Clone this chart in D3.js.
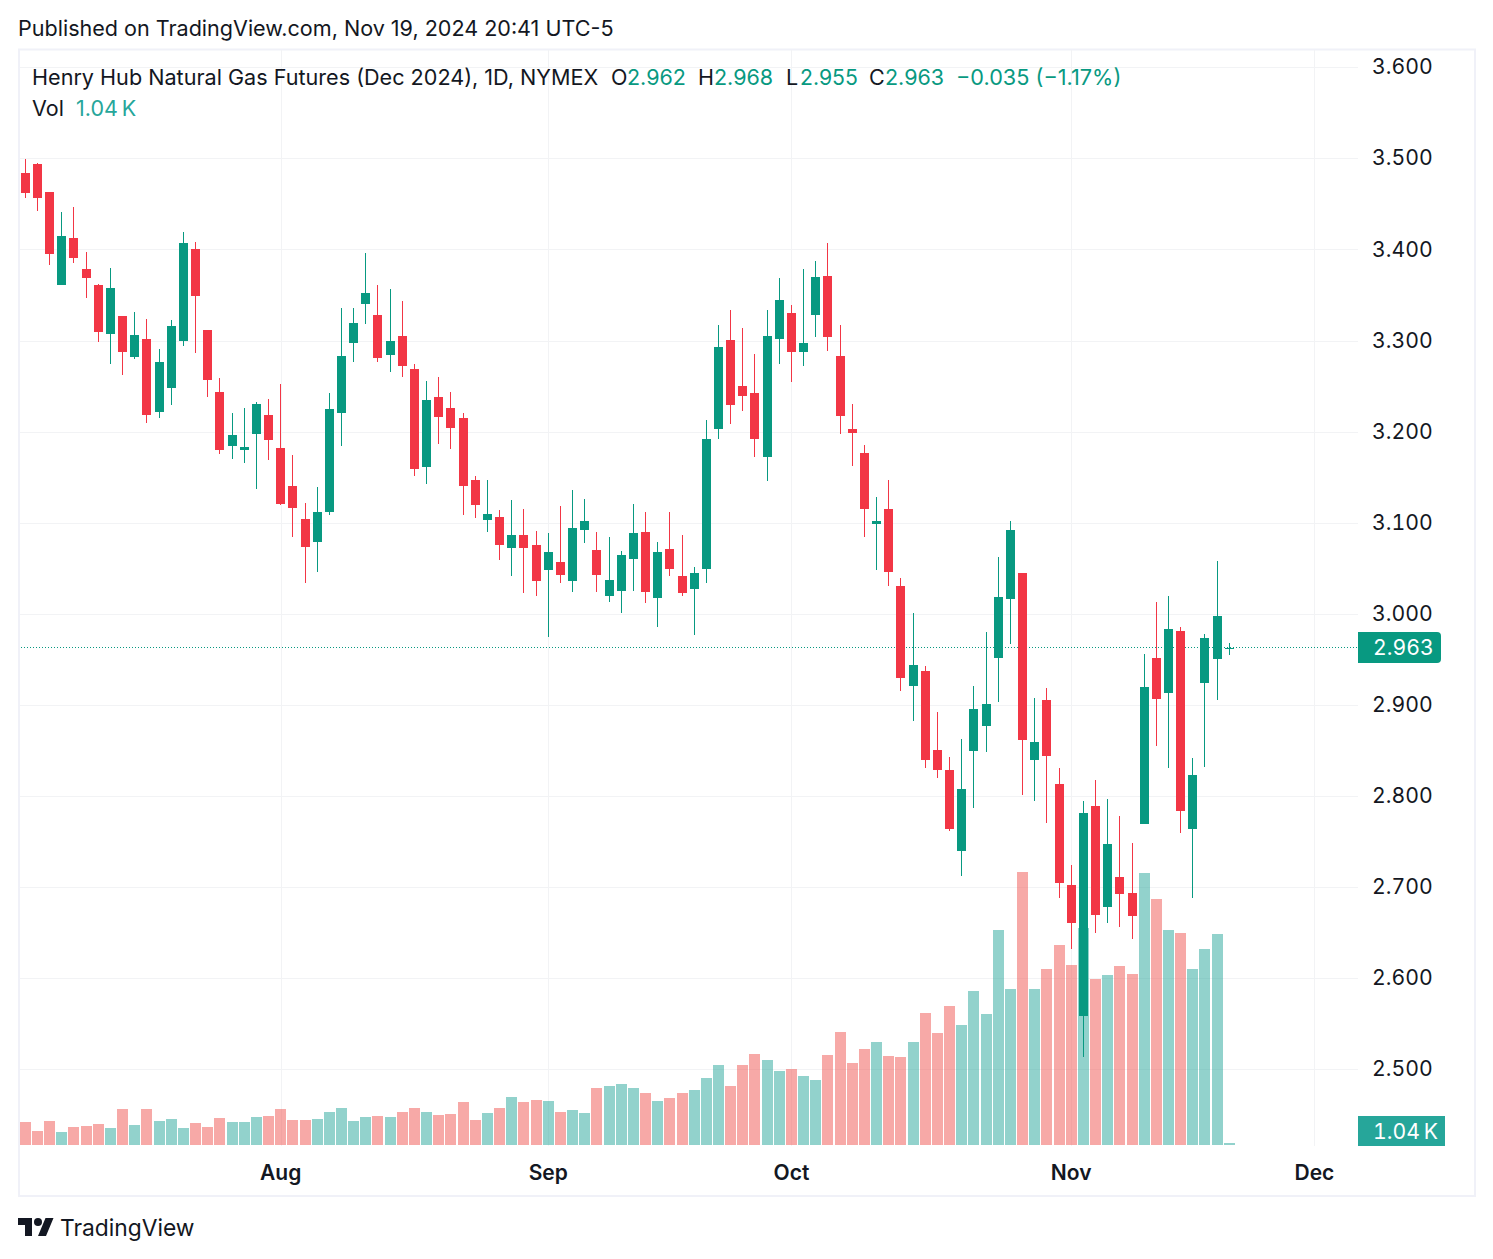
<!DOCTYPE html>
<html><head><meta charset="utf-8">
<script src="https://cdn.jsdelivr.net/npm/d3@7/dist/d3.min.js"></script>
<style>html,body{margin:0;padding:0;background:#fff}svg{display:block}text{font-family:Inter,"Noto Sans",sans-serif}</style>
</head><body><svg id="c" width="1493" height="1259"></svg>
<script>
const opens=[3.484,3.494,3.463,3.361,3.413,3.378,3.361,3.307,3.327,3.282,
3.302,3.221,3.248,3.299,3.400,3.312,3.243,3.184,3.180,3.197,
3.218,3.182,3.140,3.104,3.079,3.112,3.220,3.297,3.340,3.328,
3.284,3.305,3.269,3.161,3.238,3.226,3.215,3.147,3.103,3.106,
3.072,3.087,3.076,3.048,3.057,3.036,3.092,3.070,3.020,3.025,
3.060,3.090,3.017,3.071,3.042,3.027,3.049,3.203,3.301,3.250,
3.242,3.172,3.302,3.330,3.287,3.328,3.371,3.283,3.203,3.176,
3.099,3.115,3.030,2.921,2.937,2.851,2.829,2.740,2.849,2.877,
2.951,3.016,3.045,2.840,2.905,2.813,2.702,2.558,2.789,2.678,
2.711,2.694,2.769,2.952,2.913,2.981,2.764,2.924,2.950,2.962];
const closes=[3.462,3.456,3.395,3.415,3.391,3.369,3.309,3.358,3.287,3.306,
3.218,3.276,3.316,3.407,3.349,3.257,3.180,3.196,3.183,3.230,
3.191,3.120,3.116,3.073,3.112,3.225,3.283,3.319,3.352,3.281,
3.299,3.272,3.159,3.235,3.216,3.204,3.140,3.119,3.110,3.075,
3.087,3.072,3.036,3.068,3.043,3.094,3.102,3.043,3.037,3.064,
3.089,3.024,3.068,3.049,3.023,3.045,3.192,3.293,3.229,3.239,
3.192,3.305,3.345,3.287,3.297,3.370,3.304,3.217,3.199,3.115,
3.102,3.046,2.930,2.944,2.840,2.829,2.764,2.808,2.895,2.901,
3.018,3.092,2.862,2.859,2.844,2.705,2.661,2.781,2.669,2.747,
2.692,2.668,2.920,2.906,2.983,2.784,2.823,2.973,2.998,2.963];
const highs=[3.499,3.495,3.463,3.441,3.447,3.397,3.362,3.380,3.327,3.331,
3.324,3.291,3.322,3.419,3.408,3.312,3.259,3.220,3.226,3.232,
3.236,3.252,3.174,3.122,3.139,3.242,3.336,3.336,3.396,3.361,
3.356,3.343,3.274,3.255,3.260,3.244,3.220,3.151,3.147,3.114,
3.125,3.115,3.091,3.089,3.118,3.136,3.126,3.090,3.084,3.069,
3.120,3.112,3.079,3.112,3.087,3.051,3.213,3.317,3.333,3.314,
3.285,3.333,3.369,3.339,3.378,3.387,3.407,3.317,3.230,3.185,
3.128,3.147,3.039,3.001,2.943,2.892,2.843,2.863,2.921,2.980,
3.062,3.102,3.045,2.908,2.919,2.831,2.724,2.795,2.818,2.797,
2.778,2.748,2.956,3.013,3.020,2.985,2.842,2.978,3.058,2.968];
const lows=[3.456,3.442,3.383,3.361,3.385,3.347,3.298,3.274,3.262,3.280,
3.209,3.215,3.229,3.294,3.286,3.238,3.175,3.170,3.165,3.137,
3.169,3.119,3.084,3.034,3.046,3.108,3.184,3.276,3.318,3.276,
3.265,3.260,3.151,3.142,3.186,3.181,3.109,3.105,3.090,3.059,
3.042,3.023,3.019,2.975,3.034,3.024,3.078,3.024,3.013,3.001,
3.025,3.012,2.986,3.041,3.019,2.977,3.034,3.192,3.208,3.223,
3.172,3.146,3.274,3.254,3.272,3.304,3.289,3.197,3.162,3.084,
3.048,3.030,2.915,2.882,2.831,2.820,2.762,2.712,2.787,2.848,
2.903,2.967,2.801,2.794,2.770,2.688,2.632,2.514,2.650,2.661,
2.656,2.643,2.769,2.855,2.831,2.759,2.688,2.832,2.905,2.955];
const volumesK=[12.0,7.3,12.5,6.8,9.4,9.9,10.9,8.8,18.7,10.4,
18.7,12.5,13.5,8.8,11.4,9.4,14.0,12.0,12.0,14.6,
15.1,18.7,13.0,13.0,13.5,17.2,19.2,12.5,14.6,15.1,
14.6,17.2,19.2,17.2,15.6,16.1,22.4,13.0,16.6,19.2,
25.0,22.4,23.4,22.9,17.2,18.2,16.6,29.6,30.7,31.7,
29.6,27.0,22.9,24.4,27.0,28.6,34.8,41.6,30.7,41.6,
47.3,44.2,38.5,39.5,35.9,33.8,46.8,58.8,42.6,49.9,
53.6,46.3,45.8,53.6,68.6,58.2,72.3,62.4,80.1,68.1,
111.8,81.1,142.0,81.1,91.5,104.0,93.6,112.8,86.3,88.4,
93.1,88.9,141.4,127.9,111.8,110.2,91.5,101.9,109.7,1.04];
const priceTicks=[2.5,2.6,2.7,2.8,2.9,3.0,3.1,3.2,3.3,3.4,3.5,3.6];
const monthTickIndex=[21,43,63,86,106];
const monthTickLabels=["Aug","Sep","Oct","Nov","Dec"];
const lastPrice=2.963;
const publishedText="Published on TradingView.com, Nov 19, 2024 20:41 UTC-5";
const symbolText="Henry Hub Natural Gas Futures (Dec 2024), 1D, NYMEX";
const ohlcLegend=[["O","2.962"],["H","2.968"],["L","2.955"],["C","2.963"]];
const changeText="\u22120.035 (\u22121.17%)";
const volumeText="1.04\u2009K";

const UP="#089981",DOWN="#f23645",VTAG="#26a69a",INK="#131722",GRID="#f2f3f5",FRAME="#f0f1f8";
const svg=d3.select("#c");
const L=20,R=1358,T=50,B=1146,FR=1475,FB=1196;
const x=d3.scaleLinear().domain([0,99]).range([25.3,1229.3]);
const y=d3.scaleLinear().domain([2.5,3.6]).range([1069.3,67.2]);
const v=d3.scaleLinear().domain([0,150]).range([1145,1145-288.5]);
const idx=d3.range(opens.length);

// frame
svg.append("rect").attr("x",19).attr("y",49.5).attr("width",FR-19).attr("height",FB-49.5)
  .attr("fill","#fff").attr("stroke",FRAME).attr("stroke-width",2);

// grid
const gh=svg.append("g").attr("transform",`translate(${L},0)`)
  .call(d3.axisRight(y).tickValues(priceTicks).tickSize(R-L).tickFormat(""));
gh.select(".domain").remove();
gh.selectAll("line").attr("stroke",GRID).attr("stroke-width",1).attr("shape-rendering","crispEdges");
const gv=svg.append("g").attr("transform",`translate(0,${T})`)
  .call(d3.axisBottom(x).tickValues(monthTickIndex).tickSize(B-T).tickFormat(""));
gv.select(".domain").remove();
gv.selectAll("line").attr("stroke",GRID).attr("stroke-width",1).attr("shape-rendering","crispEdges");

// volume
const defs=svg.append("defs");
defs.append("clipPath").attr("id","pane").append("rect").attr("x",L).attr("y",T).attr("width",R-L).attr("height",B-T);
const plot=svg.append("g").attr("clip-path","url(#pane)");
plot.append("g").selectAll("rect").data(idx).join("rect")
  .attr("x",i=>x(i)-5.5).attr("width",11)
  .attr("y",i=>v(volumesK[i])).attr("height",i=>v(0)-v(volumesK[i]))
  .attr("fill",i=>closes[i]>=opens[i]?"#26a69a":"#ef5350").attr("fill-opacity",0.5)
  .attr("shape-rendering","crispEdges");

// last price line
plot.append("line").attr("x1",L-2).attr("x2",R).attr("y1",y(lastPrice)).attr("y2",y(lastPrice))
  .attr("stroke",UP).attr("stroke-width",1).attr("stroke-dasharray","1 2").attr("shape-rendering","crispEdges");

// wicks
plot.append("g").selectAll("line").data(idx).join("line")
  .attr("x1",i=>x(i)).attr("x2",i=>x(i)).attr("y1",i=>y(highs[i])).attr("y2",i=>y(lows[i]))
  .attr("stroke",i=>closes[i]>=opens[i]?UP:DOWN).attr("stroke-width",1).attr("shape-rendering","crispEdges");
// bodies
plot.append("g").selectAll("rect").data(idx).join("rect")
  .attr("x",i=>x(i)-4.5).attr("width",9)
  .attr("y",i=>y(Math.max(opens[i],closes[i])))
  .attr("height",i=>Math.max(1,Math.abs(y(opens[i])-y(closes[i]))))
  .attr("fill",i=>closes[i]>=opens[i]?UP:DOWN).attr("shape-rendering","crispEdges");

// price axis
const ya=svg.append("g").attr("transform",`translate(1372,0)`)
  .call(d3.axisRight(y).tickValues(priceTicks).tickSize(0).tickPadding(0).tickFormat(d3.format(".3f")));
ya.select(".domain").remove();
ya.selectAll("text").attr("font-size",21.2).attr("fill",INK).attr("font-family","Inter")
  .style("font-variant-numeric","tabular-nums").attr("y",-0.4).attr("dy","0.33em");

// time axis
const xa=svg.append("g").attr("transform",`translate(-0.5,1146)`)
  .call(d3.axisBottom(x).tickValues(monthTickIndex).tickSize(0).tickPadding(0)
    .tickFormat(i=>monthTickLabels[monthTickIndex.indexOf(i)]));
xa.select(".domain").remove();
xa.selectAll("text").attr("font-size",21).attr("font-weight",600).attr("fill",INK).attr("font-family","Inter").attr("y",34).attr("dy",0);

// price tags
svg.append("path").attr("d","M1358 632H1437a4 4 0 0 1 4 4V659a4 4 0 0 1-4 4H1358Z").attr("fill",UP);
svg.append("text").attr("x",1373).attr("y",655).attr("font-size",21.2).style("font-variant-numeric","tabular-nums").attr("fill","#fff").text(d3.format(".3f")(lastPrice));
svg.append("path").attr("d","M1358 1116H1445V1146H1358Z").attr("fill",VTAG);
svg.append("text").attr("x",1373).attr("y",1139).attr("font-size",21.2).style("font-variant-numeric","tabular-nums").attr("fill","#fff").text(volumeText);

// legend
const txt=(s,xp,yp,c,size=21.5)=>svg.append("text").attr("x",xp).attr("y",yp).attr("font-size",size).attr("fill",c).text(s);
txt(publishedText,18,36,INK,21.55);
txt(symbolText,32,85,INK,21.6);
const lx=[[611,627],[698,714],[786,800],[869,885]];
ohlcLegend.forEach((d,i)=>{txt(d[0],lx[i][0],85,INK);txt(d[1],lx[i][1],85,UP,i==2?21.2:21.5);});
txt(changeText,956,85,UP,21.7);
txt("Vol",32,116,INK);
txt(volumeText,76,116,VTAG);

// logo
svg.append("g").attr("transform","translate(18,1214)").call(g=>{
  g.append("path").attr("d","M14 22H7V11H0V4h14v18zM28 22h-8l7.5-18h8L28 22z").attr("fill",INK);
  g.append("circle").attr("cx",20).attr("cy",8).attr("r",4).attr("fill",INK);
});
txt("TradingView",60,1236,INK,22.8);
</script></body></html>
